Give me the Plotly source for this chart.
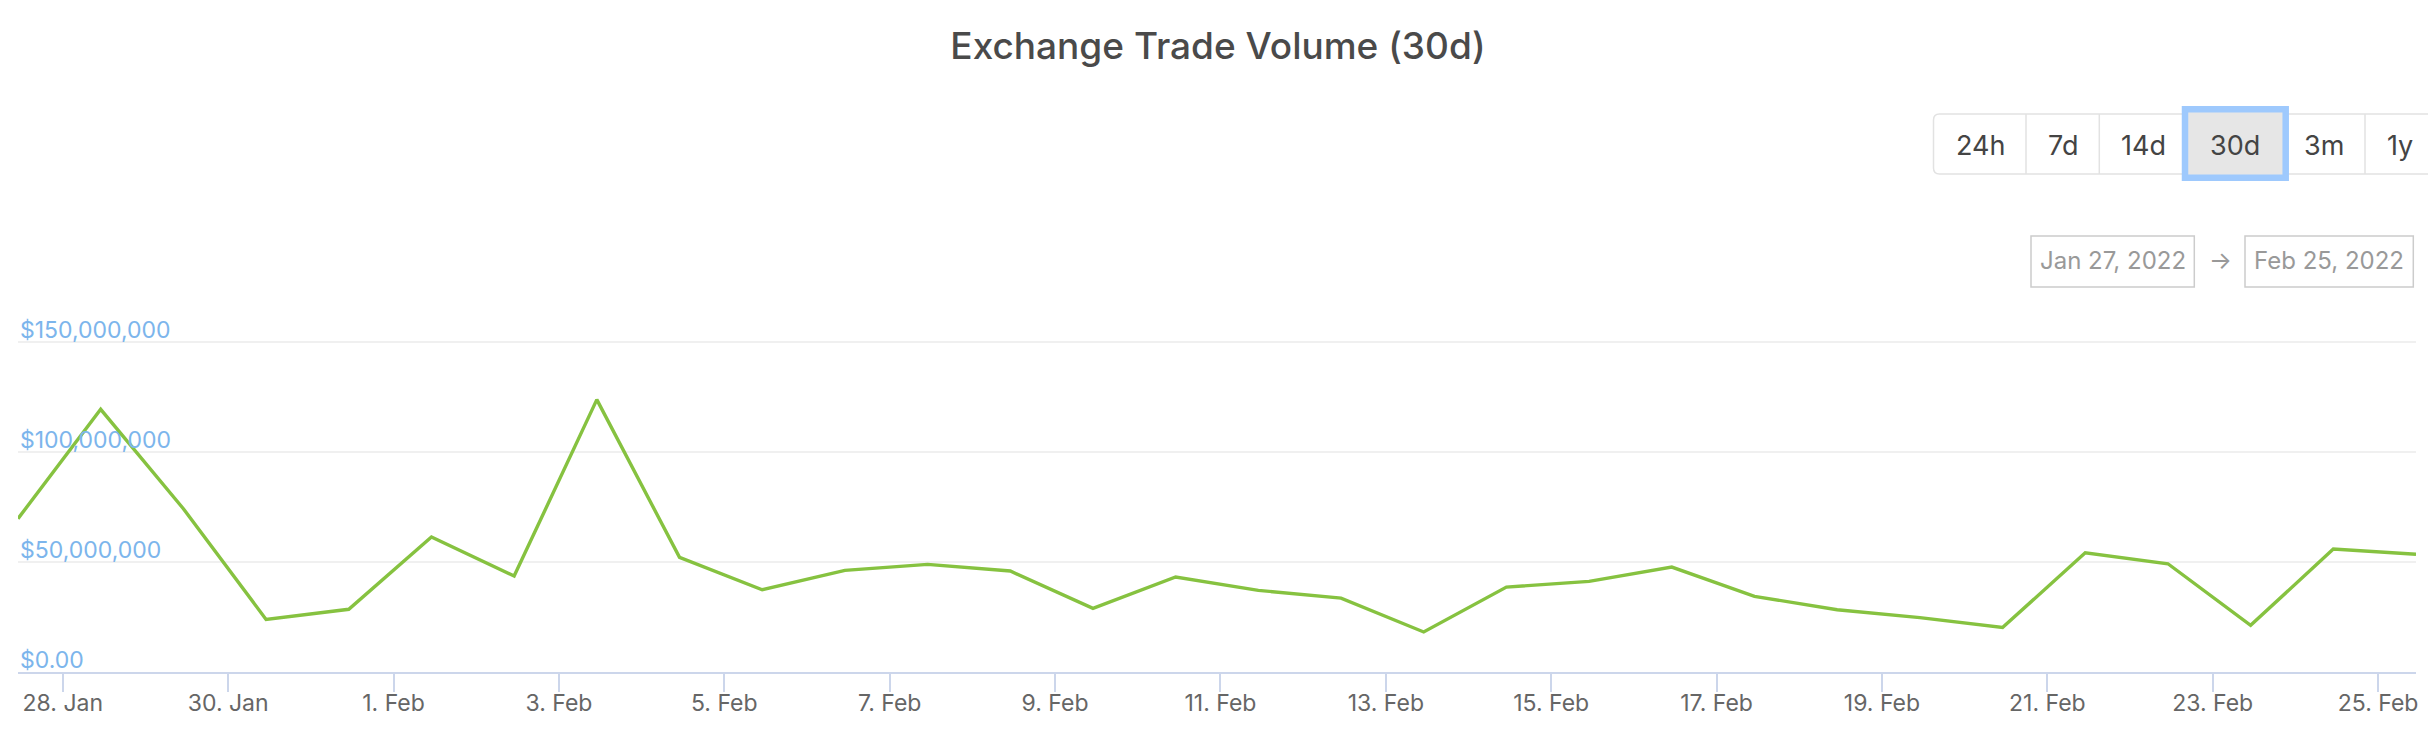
import plotly.graph_objects as go
import pandas as pd

# ---- data ----
dates = pd.date_range("2022-01-27 11:00", periods=30, freq="D")
volume_musd = [69.7, 119.4, 74.2, 23.9, 28.5, 61.4, 43.6, 123.8, 52.1, 37.4,
               46.2, 48.9, 45.9, 28.9, 43.2, 37.1, 33.6, 18.2, 38.6, 41.2,
               47.7, 34.4, 28.3, 24.7, 20.2, 54.2, 49.2, 21.2, 55.9, 53.5]
volume = [v * 1e6 for v in volume_musd]
y_tickvals = [0, 50e6, 100e6, 150e6]
y_ticktext = ["$0.00", "$50,000,000", "$100,000,000", "$150,000,000"]
range_buttons = ["24h", "7d", "14d", "30d", "3m", "1y"]
date_from = "Jan 27, 2022"
date_to = "Feb 25, 2022"
title = "Exchange Trade Volume (30d)"

FONT = "Inter"
OFF = 8  # default body margin of the page
PAGE_W, PAGE_H = 2436, 744
W, H = PAGE_W - OFF, PAGE_H - OFF
# plot area in page pixels
PL, PR, PT, PB = 18, 2416, 320, 672
L, R, T, B = PL - OFF, PR - OFF, PT - OFF, PB - OFF


def px(xp):
    return (xp - PL) / (PR - PL)


def py(yp):
    return (PB - yp) / (PB - PT)


fig = go.Figure()
fig.add_trace(go.Scatter(
    x=dates, y=volume, mode="lines",
    line=dict(color="#86c240", width=3.4),
    hoverinfo="x+y", showlegend=False,
))

shapes = []
annotations = []


def rounded_rect(x0, y0, x1, y1, r):
    X0, X1 = px(x0), px(x1)
    Y0, Y1 = py(y0), py(y1)
    rx = r / (PR - PL)
    ry = r / (PB - PT)
    return (f"M {X0+rx} {Y0} L {X1-rx} {Y0} Q {X1} {Y0} {X1} {Y0-ry} "
            f"L {X1} {Y1+ry} Q {X1} {Y1} {X1-rx} {Y1} L {X0+rx} {Y1} "
            f"Q {X0} {Y1} {X0} {Y1+ry} L {X0} {Y0-ry} Q {X0} {Y0} {X0+rx} {Y0} Z")


# range selector button group
shapes.append(dict(type="path", xref="paper", yref="paper",
                   path=rounded_rect(1933.5, 114, 2434.5, 174, 6),
                   line=dict(color="#e2e2e2", width=1.5), fillcolor="white", layer="above"))
centers = [1980, 2062.7, 2143, 2235, 2324, 2400]
for xd in [2026, 2099.3, 2365]:
    shapes.append(dict(type="line", xref="paper", yref="paper",
                       x0=px(xd), x1=px(xd), y0=py(114), y1=py(174),
                       line=dict(color="#e2e2e2", width=1.5), layer="above"))
shapes.append(dict(type="rect", xref="paper", yref="paper",
                   x0=px(2185), x1=px(2285.7), y0=py(109.3), y1=py(177.7),
                   fillcolor="#e6e6e6", line=dict(color="#9ec9fd", width=6.5), layer="above"))
for lab, cx in zip(range_buttons, centers):
    annotations.append(dict(text=lab, xref="paper", yref="paper", x=px(cx), y=py(146),
                            xanchor="center", yanchor="middle", showarrow=False,
                            font=dict(family=FONT, size=27, color="#444444")))

# date range boxes
for x0, x1, txt in [(2031, 2194.3, date_from), (2245, 2413.3, date_to)]:
    shapes.append(dict(type="rect", xref="paper", yref="paper",
                       x0=px(x0), x1=px(x1), y0=py(236), y1=py(287),
                       line=dict(color="#cccccc", width=1.5), fillcolor="white", layer="above"))
    annotations.append(dict(text=txt, xref="paper", yref="paper", x=px((x0 + x1) / 2), y=py(261),
                            xanchor="center", yanchor="middle", showarrow=False,
                            font=dict(family=FONT, size=24, color="#999999")))
annotations.append(dict(text="→", xref="paper", yref="paper", x=px(2220), y=py(260),
                        xanchor="center", yanchor="middle", showarrow=False,
                        font=dict(family=FONT, size=24, color="#999999")))

# y-axis labels drawn above their grid lines (inside the plot)
for v, t in zip(y_tickvals, y_ticktext):
    annotations.append(dict(text=t, xref="paper", yref="y", x=0, y=v, xshift=0, yshift=-4,
                            xanchor="left", yanchor="bottom", showarrow=False,
                            font=dict(family=FONT, size=23, color="#7cb5ec")))

fig.update_layout(
    width=W, height=H,
    margin=dict(l=L, r=W - R, t=T, b=H - B, pad=0),
    paper_bgcolor="white", plot_bgcolor="white",
    title=dict(text=title, x=0.5 - OFF / 2 / W, xanchor="center", xref="container",
               y=1 - (46 - OFF) / H, yanchor="middle", yref="container",
               font=dict(family=FONT, size=37, color="#4a4a4a", weight=500)),
    xaxis=dict(
        range=[dates[0], dates[-1]], type="date",
        tickformat="%-d. %b", dtick=2 * 86400000, tick0="2022-01-28",
        showgrid=False, showline=True, linecolor="#ccd6eb", linewidth=1.5,
        ticks="outside", ticklen=18, tickwidth=1.5, tickcolor="#ccd6eb",
        tickfont=dict(family=FONT, size=23, color="#666666"),
        ticklabelstandoff=-8,
        zeroline=False, fixedrange=True,
    ),
    yaxis=dict(
        range=[0, 160e6], tickvals=y_tickvals, showticklabels=False,
        showgrid=True, gridcolor="#f0f0f0", gridwidth=1.5,
        zeroline=False, showline=False, ticks="", fixedrange=True,
    ),
    shapes=shapes, annotations=annotations,
    showlegend=False,
)

fig.write_html("out.html")
